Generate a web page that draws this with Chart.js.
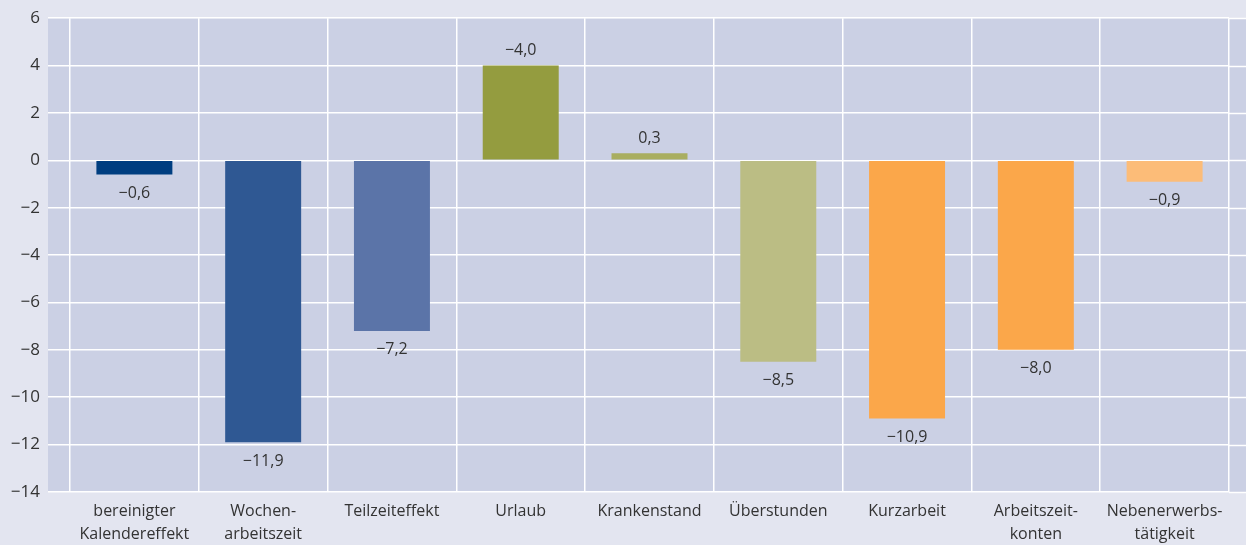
<!DOCTYPE html>
<html>
<head>
<meta charset="utf-8">
<script src="https://cdn.jsdelivr.net/npm/chart.js@4/dist/chart.umd.min.js"></script>
<style>
  html, body { margin: 0; padding: 0; background: #e3e5f0; }
  #wrap { width: 1246px; height: 545px; position: relative; }
</style>
</head>
<body>
<div id="wrap"><canvas id="chart"></canvas></div>
<script>
const CATEGORIES = [
  ["bereinigter", "Kalendereffekt"],
  ["Wochen-", "arbeitszeit"],
  "Teilzeiteffekt",
  "Urlaub",
  "Krankenstand",
  "Überstunden",
  "Kurzarbeit",
  ["Arbeitszeit-", "konten"],
  ["Nebenerwerbs-", "tätigkeit"],
];
const VALUES = [-0.6, -11.9, -7.2, 4.0, 0.3, -8.5, -10.9, -8.0, -0.9];
const VALUE_LABELS = ["−0,6", "−11,9", "−7,2", "−4,0", "0,3", "−8,5", "−10,9", "−8,0", "−0,9"];
const BAR_COLORS = ["#003e80", "#2f5893", "#5b74a8", "#949c3f", "#a9ae60", "#bbbd84", "#fba74a", "#fba74a", "#fcbc78"];
const Y_MIN = -14, Y_MAX = 6, Y_STEP = 2;

const FONT = "'Open Sans', 'DejaVu Sans', sans-serif";
const TEXT = "#333333";
const PLOT_BG = "#cbd0e4";

// plot background reaches past the category range on both sides
const plotBg = {
  id: "plotBg",
  beforeDraw(chart) {
    const { ctx, chartArea: a, scales } = chart;
    ctx.save();
    ctx.fillStyle = PLOT_BG;
    ctx.fillRect(a.left - 22, a.top, a.right - a.left + 22 + 17, a.bottom - a.top);
    // right-hand extension of the horizontal grid
    ctx.strokeStyle = "#ffffff";
    ctx.lineWidth = 1.5;
    scales.y.ticks.forEach((t) => {
      const y = Math.round(scales.y.getPixelForValue(t.value)) + 0.5;
      ctx.beginPath();
      ctx.moveTo(a.right, y);
      ctx.lineTo(a.right + 17, y);
      ctx.stroke();
    });
    ctx.restore();
  },
};

const valueLabels = {
  id: "valueLabels",
  afterDatasetsDraw(chart) {
    const { ctx } = chart;
    const meta = chart.getDatasetMeta(0);
    ctx.save();
    ctx.font = "16px " + FONT;
    ctx.fillStyle = TEXT;
    ctx.textAlign = "center";
    ctx.textBaseline = "middle";
    meta.data.forEach((bar, i) => {
      const v = VALUES[i];
      const y = v < 0 ? bar.y + 19 : bar.y - 15;
      ctx.fillText(VALUE_LABELS[i], bar.x, y);
    });
    ctx.restore();
  },
};

new Chart(document.getElementById("chart"), {
  type: "bar",
  data: {
    labels: CATEGORIES,
    datasets: [{
      data: VALUES,
      backgroundColor: BAR_COLORS,
      barPercentage: 0.59,
      categoryPercentage: 1,
      borderWidth: 0,
    }],
  },
  options: {
    responsive: true,
    maintainAspectRatio: false,
    animation: false,
    layout: { padding: { top: 16, right: 17, left: 0, bottom: 0 } },
    plugins: { legend: { display: false }, tooltip: { enabled: false } },
    scales: {
      x: {
        offset: true,
        grid: { offset: true, color: "#ffffff", lineWidth: 1.5, drawTicks: false, tickLength: 0 },
        border: { display: false },
        ticks: { color: TEXT, font: { family: FONT, size: 16, lineHeight: 1.45 }, padding: 8, maxRotation: 0, autoSkip: false },
        afterFit: (s) => { s.height = 53; },
      },
      y: {
        min: Y_MIN,
        max: Y_MAX,
        grid: { color: "#ffffff", lineWidth: 1.5, drawTicks: true, tickLength: 22 },
        border: { display: false },
        ticks: {
          stepSize: Y_STEP,
          color: TEXT,
          font: { family: FONT, size: 17 },
          padding: 8,
          callback: (v) => (v < 0 ? "−" + Math.abs(v) : String(v)),
        },
        afterFit: (s) => { s.width = 70; },
      },
    },
  },
  plugins: [plotBg, valueLabels],
});
</script>
</body>
</html>
